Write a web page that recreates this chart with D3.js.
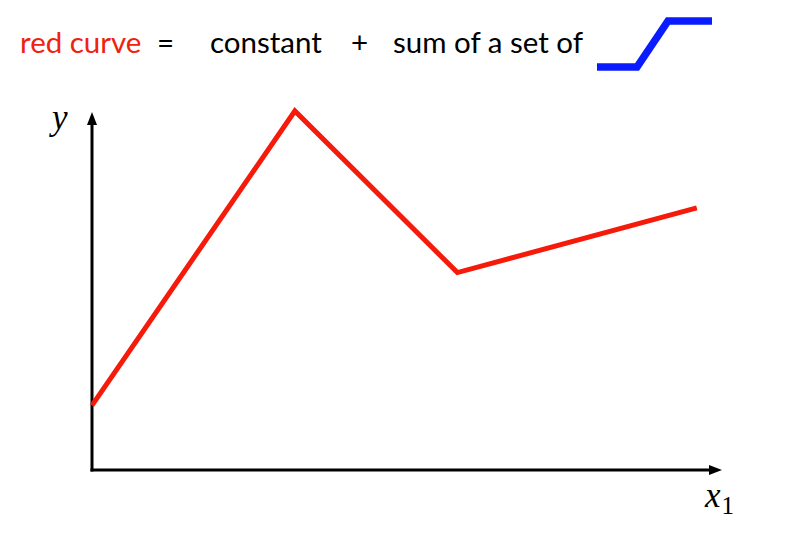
<!DOCTYPE html>
<html><head><meta charset="utf-8">
<script src="https://cdn.jsdelivr.net/npm/d3@7"></script>
<style>body{margin:0;background:#fff}svg{display:block}</style>
</head><body>
<script>
// data
const xValues = [0, 32.2, 58, 96];
const yValues = [18, 100, 55, 73];
const stepX = [0, 1, 2, 3];       // the blue step glyph
const stepY = [0, 0, 1, 1];
const titleParts = ["red curve", "=", "constant", "+", "sum of a set of"];

const W = 788, H = 534;
const svg = d3.select("body").append("svg").attr("width", W).attr("height", H);

const x = d3.scaleLinear().domain([0, 100]).range([92, 722]);
const y = d3.scaleLinear().domain([0, 100]).range([470, 111]);

// title
const font = "Lato, 'Open Sans', sans-serif";
const tx = [20, 157, 210, 351, 393];
titleParts.forEach((t, i) => {
  svg.append("text").attr("x", tx[i]).attr("y", 53)
    .attr("font-family", font).attr("font-size", 29.5)
    .attr("fill", i === 0 ? "#f0220f" : "#000").text(t);
});

// blue step glyph
const sx = d3.scaleLinear().domain([0, 1, 2, 3]).range([597, 637, 668, 712]);
const sy = d3.scaleLinear().domain([0, 1]).range([67, 21]);
svg.append("path")
  .attr("d", d3.line().x((d, i) => sx(stepX[i])).y((d, i) => sy(stepY[i]))(stepX))
  .attr("fill", "none").attr("stroke", "#0a1cff").attr("stroke-width", 7.5)
  .attr("stroke-linejoin", "miter");

// axes
svg.append("path").attr("d", `M${x(0)},${y(0)+1.5}V${y(100)+14}`)
  .attr("stroke", "#000").attr("stroke-width", 3).attr("fill", "none");
svg.append("path").attr("d", `M${x(0)-1.5},${y(0)}H${x(100)-12}`)
  .attr("stroke", "#000").attr("stroke-width", 3).attr("fill", "none");
svg.append("path").attr("d", `M${x(0)},${y(100)+1}l-5,13h10z`).attr("fill", "#000");
svg.append("path").attr("d", `M${x(100)},${y(0)}l-13,-5v10z`).attr("fill", "#000");

// red curve
svg.append("path")
  .datum(xValues.map((v, i) => [v, yValues[i]]))
  .attr("d", d3.line().x(d => x(d[0])).y(d => y(d[1])))
  .attr("fill", "none").attr("stroke", "#f51a0a").attr("stroke-width", 5)
  .attr("stroke-linejoin", "miter");

// axis labels
svg.append("text").attr("x", 52).attr("y", 129).attr("font-family", "'Liberation Serif', serif")
  .attr("font-style", "italic").attr("font-size", 35).text("y");
const xl = svg.append("text").attr("x", 705).attr("y", 507).attr("font-family", "'Liberation Serif', serif")
  .attr("font-size", 35);
xl.append("tspan").attr("font-style", "italic").text("x");
xl.append("tspan").attr("font-size", 25).attr("dy", 7).attr("dx", 1).text("1");
</script>
</body></html>
